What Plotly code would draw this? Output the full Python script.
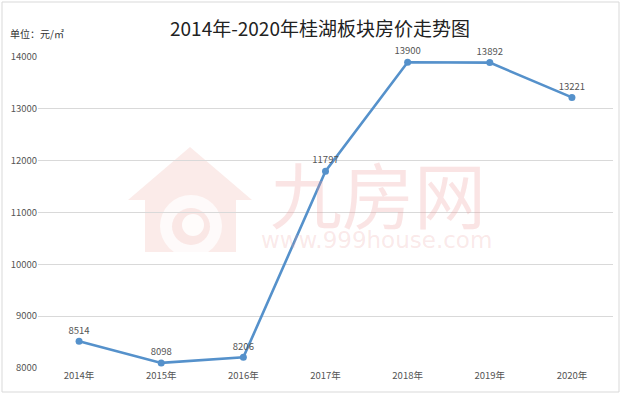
import plotly.graph_objects as go

years = ["2014年", "2015年", "2016年", "2017年", "2018年", "2019年", "2020年"]
prices = [8514, 8098, 8206, 11797, 13900, 13892, 13221]
y_ticks = [8000, 9000, 10000, 11000, 12000, 13000, 14000]

W, H = 625, 395
L, R, T, B = 38, 12, 57, 27
pw, ph = W - L - R, H - T - B

def px(x):
    return (x - L) / pw

def py(y):
    return (H - B - y) / ph

font = "Noto Sans CJK SC, Noto Sans, sans-serif"
pink = "rgba(236,150,150,0.26)"

fig = go.Figure()
fig.add_trace(go.Scatter(
    x=years, y=prices, mode="lines+markers+text",
    line=dict(color="#5591cb", width=2.6),
    marker=dict(color="#5591cb", size=7),
    text=[str(v) for v in prices], textposition="top center",
    textfont=dict(size=9.5, color="#555555", family=font),
    cliponaxis=False, hoverinfo="skip", showlegend=False,
))

# watermark house logo
roof = f"M {px(128)},{py(200)} L {px(190)},{py(147)} L {px(252)},{py(200)} L {px(236)},{py(200)} L {px(236)},{py(252)} L {px(145)},{py(252)} L {px(145)},{py(200)} Z"
shapes = [
    dict(type="path", path=roof, xref="paper", yref="paper", fillcolor="rgba(240,170,165,0.24)", line=dict(width=0), layer="below"),
    dict(type="circle", xref="paper", yref="paper", x0=px(160), x1=px(222), y0=py(257), y1=py(195),
         fillcolor="rgba(255,255,255,0.75)", line=dict(width=0), layer="below"),
    dict(type="circle", xref="paper", yref="paper", x0=px(172), x1=px(210), y0=py(245), y1=py(208),
         fillcolor="rgba(240,170,165,0.24)", line=dict(width=0), layer="below"),
    dict(type="circle", xref="paper", yref="paper", x0=px(182), x1=px(204), y0=py(236), y1=py(214),
         fillcolor="rgba(255,255,255,0.85)", line=dict(width=0), layer="below"),
    dict(type="rect", xref="paper", yref="paper", x0=px(2), x1=px(619), y0=py(392), y1=py(2),
         line=dict(color="#d9d9d9", width=1), layer="below"),
]

annotations = [
    dict(text="2014年-2020年桂湖板块房价走势图", x=px(320), y=py(27), xref="paper", yref="paper",
         xanchor="center", yanchor="middle",
         showarrow=False, font=dict(size=19, color="#222222", family="Noto Sans CJK SC, serif")),
    dict(text="单位：元/㎡", x=px(8), y=py(33), xref="paper", yref="paper", xanchor="left", yanchor="middle",
         showarrow=False, font=dict(size=10, color="#333333", family=font)),
    dict(text="九房网", x=px(378), y=py(191), xref="paper", yref="paper", xanchor="center", yanchor="middle",
         showarrow=False, font=dict(size=72, color=pink, family=font)),
    dict(text="www.999house.com", x=px(377), y=py(240), xref="paper", yref="paper", xanchor="center", yanchor="middle",
         showarrow=False, font=dict(size=23, color="rgba(236,160,160,0.24)", family="DejaVu Sans, sans-serif")),
]

fig.update_layout(
    width=W, height=H, margin=dict(l=L, r=R, t=T, b=B),
    paper_bgcolor="white", plot_bgcolor="white",
    shapes=shapes, annotations=annotations,
    xaxis=dict(type="category", range=[-0.5, 6.5], showgrid=False, showline=False, zeroline=False,
               ticks="", tickfont=dict(size=9.5, color="#555555", family=font), fixedrange=True),
    yaxis=dict(range=[8000, 14000], tickvals=y_ticks, ticktext=[str(v) for v in y_ticks],
               showgrid=True, gridcolor="#d9d9d9", gridwidth=1,
               zeroline=False, showline=False, ticks="", tickfont=dict(size=9.5, color="#555555", family=font),
               fixedrange=True),
)
fig.write_html("out.html")
